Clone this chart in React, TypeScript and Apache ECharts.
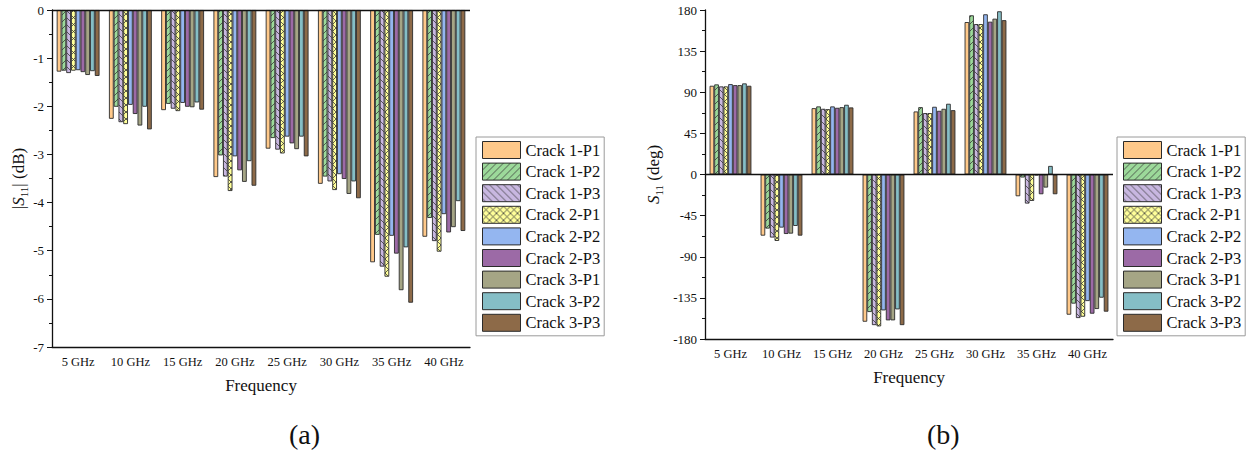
import React, { useEffect, useRef } from "react";
import * as echarts from "echarts";

const categories = ["5 GHz", "10 GHz", "15 GHz", "20 GHz", "25 GHz", "30 GHz", "35 GHz", "40 GHz"];
const seriesNames = ["Crack 1-P1", "Crack 1-P2", "Crack 1-P3", "Crack 2-P1", "Crack 2-P2", "Crack 2-P3", "Crack 3-P1", "Crack 3-P2", "Crack 3-P3"];

// |S11| (dB)
const magC1P1 = [-1.28, -2.26, -2.08, -3.47, -2.88, -3.61, -5.24, -4.71];
const magC1P2 = [-1.26, -2.01, -1.95, -3.02, -2.66, -3.46, -4.67, -4.32];
const magC1P3 = [-1.31, -2.33, -2.05, -3.46, -2.9, -3.56, -5.33, -4.8];
const magC2P1 = [-1.26, -2.37, -2.1, -3.76, -2.98, -3.74, -5.54, -5.02];
const magC2P2 = [-1.25, -1.97, -1.93, -3.04, -2.63, -3.41, -4.69, -4.24];
const magC2P3 = [-1.29, -2.16, -2.01, -3.33, -2.77, -3.51, -5.06, -4.62];
const magC3P1 = [-1.35, -2.4, -2.02, -3.57, -2.89, -3.82, -5.82, -4.51];
const magC3P2 = [-1.27, -2.01, -1.92, -3.14, -2.63, -3.56, -4.93, -3.97];
const magC3P3 = [-1.37, -2.48, -2.07, -3.65, -3.04, -3.91, -6.08, -4.59];

// S11 phase (deg)
const phC1P1 = [97.1, -66.9, 72.6, -161.1, 69.0, 166.8, -23.8, -153.4];
const phC1P2 = [98.6, -59.2, 74.5, -150.5, 73.7, 174.2, -3.3, -141.3];
const phC1P3 = [96.4, -69.0, 71.9, -164.8, 67.2, 164.6, -31.8, -157.1];
const phC2P1 = [96.4, -72.7, 71.5, -166.2, 67.2, 164.6, -28.9, -155.6];
const phC2P2 = [98.9, -58.1, 74.5, -148.7, 74.1, 175.3, -1.0, -138.5];
const phC2P3 = [97.8, -65.1, 73.0, -159.6, 69.7, 167.2, -21.6, -152.3];
const phC3P1 = [97.8, -64.7, 73.7, -159.6, 71.9, 170.5, -14.3, -147.2];
const phC3P2 = [99.7, -56.3, 76.3, -147.6, 77.4, 178.6, 9.4, -134.8];
const phC3P3 = [97.1, -66.9, 73.4, -164.8, 70.4, 168.9, -21.6, -150.1];

const magData = [magC1P1, magC1P2, magC1P3, magC2P1, magC2P2, magC2P3, magC3P1, magC3P2, magC3P3];
const phData = [phC1P1, phC1P2, phC1P3, phC2P1, phC2P2, phC2P3, phC3P1, phC3P2, phC3P3];

const magTicks = [0, -1, -2, -3, -4, -5, -6, -7];
const phTicks = [180, 135, 90, 45, 0, -45, -90, -135, -180];

const FONT = "Liberation Serif";

function makePattern(bg: string, kind: string) {
  const s = 7;
  const c = document.createElement("canvas");
  c.width = s;
  c.height = s;
  const ctx = c.getContext("2d")!;
  ctx.fillStyle = bg;
  ctx.fillRect(0, 0, s, s);
  ctx.strokeStyle = "#3a3a3a";
  ctx.lineWidth = 0.8;
  const fwd = () => {
    for (const k of [-s, 0, s]) {
      ctx.beginPath();
      ctx.moveTo(k, s);
      ctx.lineTo(k + s, 0);
      ctx.stroke();
    }
  };
  const back = () => {
    for (const k of [-s, 0, s]) {
      ctx.beginPath();
      ctx.moveTo(k, 0);
      ctx.lineTo(k + s, s);
      ctx.stroke();
    }
  };
  if (kind === "/") fwd();
  if (kind === "\\") back();
  if (kind === "x") {
    fwd();
    back();
  }
  return { image: c, repeat: "repeat", imageWidth: s, imageHeight: s } as any;
}

export default function App() {
  const ref = useRef<HTMLDivElement>(null);
  useEffect(() => {
    if (!ref.current) return;
    const chart = echarts.init(ref.current, null, { renderer: "svg" });

    const fills: any[] = [
      "#FFC98A",
      makePattern("#9CD99A", "/"),
      makePattern("#C8B7E0", "\\"),
      makePattern("#FFFF99", "x"),
      "#94B6F0",
      "#9C6AA6",
      "#A5A585",
      "#85BEC6",
      "#8D6A48",
    ];

    const series: any[] = [];
    seriesNames.forEach((name, i) => {
      const common = {
        name,
        type: "bar",
        barGap: "0%",
        barCategoryGap: "18%",
        itemStyle: { color: fills[i], borderColor: "#2b2b2b", borderWidth: 0.9 },
      };
      series.push({ ...common, xAxisIndex: 0, yAxisIndex: 0, data: magData[i] });
      series.push({ ...common, xAxisIndex: 1, yAxisIndex: 1, data: phData[i] });
    });
    const zeroLine = {
      silent: true,
      symbol: "none",
      label: { show: false },
      lineStyle: { color: "#111", type: "solid", width: 1.3 },
      data: [{ yAxis: 0 }],
    };
    series[0].markLine = zeroLine;
    series[1].markLine = zeroLine;

    const axisLine = { show: true, onZero: false, lineStyle: { color: "#111", width: 1.3 } };
    const xLabel = { fontFamily: FONT, fontSize: 12.5, color: "#111", margin: 8 };
    const yLabel = { fontFamily: FONT, fontSize: 13, color: "#111", margin: 8 };
    const nameStyle = { fontFamily: FONT, fontSize: 17, color: "#111" };
    const rich = {
      n: { fontFamily: FONT, fontSize: 17, color: "#111", lineHeight: 22 },
      i: { fontFamily: FONT, fontSize: 17, fontStyle: "italic", color: "#111", lineHeight: 22 },
      sub: { fontFamily: FONT, fontSize: 11, color: "#111", lineHeight: 12, verticalAlign: "bottom" },
    };

    const legendCommon = {
      orient: "vertical",
      data: seriesNames.map((n) => ({ name: n, icon: "rect" })),
      icon: "rect",
      itemWidth: 38,
      itemHeight: 17,
      itemGap: 3.6,
      padding: [4, 4, 4, 6],
      borderColor: "#9a9a9a",
      borderWidth: 1,
      backgroundColor: "#fff",
      textStyle: { fontFamily: FONT, fontSize: 16.5, color: "#111", lineHeight: 17 },
      itemStyle: { borderColor: "#2b2b2b", borderWidth: 1 },
      selectedMode: false,
    };

    chart.setOption({
      animation: false,
      backgroundColor: "#fff",
      grid: [
        { left: 52, top: 10, width: 418, height: 337, containLabel: false },
        { left: 705, top: 10, width: 408, height: 329, containLabel: false },
      ],
      legend: [
        { ...legendCommon, left: 476, top: 137 },
        { ...legendCommon, left: 1117, top: 137 },
      ],
      xAxis: [0, 1].map((g) => ({
        type: "category",
        gridIndex: g,
        data: categories,
        axisLine,
        axisTick: { show: false },
        axisLabel: xLabel,
        name: "Frequency",
        nameLocation: "middle",
        nameGap: 30,
        nameTextStyle: nameStyle,
        splitLine: { show: false },
      })),
      yAxis: [
        {
          type: "value",
          gridIndex: 0,
          min: magTicks[magTicks.length - 1],
          max: magTicks[0],
          interval: 1,
          axisLine,
          axisTick: { show: true, length: 5, lineStyle: { color: "#111" } },
          minorTick: { show: true, splitNumber: 2, length: 3, lineStyle: { color: "#111" } },
          axisLabel: yLabel,
          splitLine: { show: false },
          name: "{n||}{i|S}{sub|11}{n|| (dB)}",
          nameLocation: "middle",
          nameRotate: 90,
          nameGap: 15,
          nameTextStyle: { ...nameStyle, rich },
        },
        {
          type: "value",
          gridIndex: 1,
          min: phTicks[phTicks.length - 1],
          max: phTicks[0],
          interval: 45,
          axisLine,
          axisTick: { show: true, length: 5, lineStyle: { color: "#111" } },
          minorTick: { show: true, splitNumber: 2, length: 3, lineStyle: { color: "#111" } },
          axisLabel: yLabel,
          splitLine: { show: false },
          name: "{i|S}{sub|11}{n| (deg)}",
          nameLocation: "middle",
          nameRotate: 90,
          nameGap: 41,
          nameTextStyle: { ...nameStyle, rich },
        },
      ],
      graphic: [
        { type: "text", left: 289, top: 420, style: { text: "(a)", font: `28px ${FONT}`, fill: "#111" } },
        { type: "text", left: 927, top: 420, style: { text: "(b)", font: `28px ${FONT}`, fill: "#111" } },
      ],
      series,
    });
    return () => chart.dispose();
  }, []);
  return <div ref={ref} style={{ position: "absolute", left: 0, top: 0, width: 1252, height: 454 }} />;
}
